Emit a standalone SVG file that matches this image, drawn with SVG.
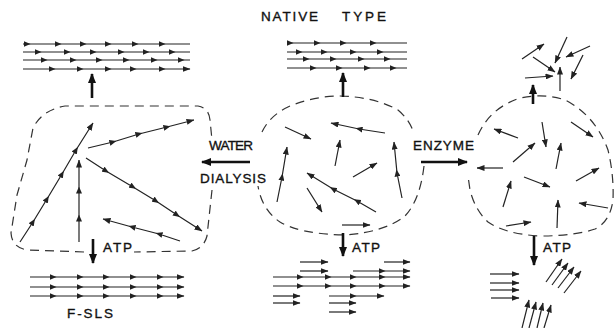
<svg xmlns="http://www.w3.org/2000/svg" width="614" height="328" viewBox="0 0 614 328">
  <style>
    .f { fill: none; stroke: #222; stroke-width: 1.2; marker-end: url(#tip); }
    .fm { fill: none; stroke: #222; stroke-width: 1.2; marker-mid: url(#mid); marker-end: url(#tip); }
    .fo { fill: none; stroke: #222; stroke-width: 1.2; marker-mid: url(#mid); }
    .dash { fill: none; stroke: #333; stroke-width: 1.2; stroke-dasharray: 9 6; }
    .big { fill: none; stroke: #111; stroke-width: 2.6; marker-end: url(#big); }
    text { font-family: "Liberation Sans", Arial, sans-serif; font-size: 13.5px; fill: #111; stroke: #111; stroke-width: 0.35; }
  </style>
  <defs>
    <marker id="tip" viewBox="0 0 8 6" refX="7.5" refY="3" markerWidth="8" markerHeight="6" markerUnits="userSpaceOnUse" orient="auto">
      <path d="M0,0 L8,3 L0,6 z" fill="#222"/>
    </marker>
    <marker id="mid" viewBox="0 0 7 6" refX="3.5" refY="3" markerWidth="7" markerHeight="6" markerUnits="userSpaceOnUse" orient="auto">
      <path d="M0,0 L7,3 L0,6 z" fill="#222"/>
    </marker>
    <marker id="big" viewBox="0 0 10 8" refX="9" refY="4" markerWidth="10" markerHeight="8" markerUnits="userSpaceOnUse" orient="auto">
      <path d="M0,0 L10,4 L0,8 z" fill="#111"/>
    </marker>
  </defs>

  <!-- title -->
  <g id="title">
    <text y="21"><tspan x="261" textLength="57">NATIVE</tspan><tspan x="342" textLength="44">TYPE</tspan></text>
  </g>

  <!-- aligned filament bundles at the top -->
  <g id="left-bundle">
    <path class="fo" d="M23,44 L27,44 L58,44 L83,44 L108,44 L135,44 L162,44 L190,44"/>
    <path class="fo" d="M23,52 L38,52 L67,52 L93,52 L121,52 L146,52 L172,52 L190,52"/>
    <path class="fo" d="M23,60 L44,60 L73,60 L99,60 L126,60 L154,60 L181,60 L190,60"/>
    <path class="fm" d="M23,69 L52,69 L80,69 L108,69 L133,69 L162,69 L190,69"/>
  </g>
  <g id="native-bundle">
    <path class="fo" d="M287,43 L290,43 L317,43 L343,43 L373,43 L407,43"/>
    <path class="fo" d="M287,52 L299,52 L324,52 L353,52 L380,52 L407,52"/>
    <path class="fo" d="M287,59 L306,59 L333,59 L361,59 L387,59 L407,59"/>
    <path class="fo" d="M287,68 L313,68 L339,68 L367,68 L393,68 L407,68"/>
  </g>
  <g id="scattered-top">
    <path class="f" d="M522,59 L544,44"/>
    <path class="f" d="M567,37 L555,63"/>
    <path class="f" d="M590,46 L566,57"/>
    <path class="f" d="M533,57 L555,72"/>
    <path class="f" d="M525,78 L553,76"/>
    <path class="f" d="M560,91 L560,67"/>
    <path class="f" d="M583,55 L571,79"/>
  </g>

  <!-- left cluster (long filaments) -->
  <g id="left-cluster">
    <path class="dash" d="M84,252 L28,250 Q12,248 11,233 L17,195 L27,160 L33,128 Q42,110 65,106 L198,106 Q209,108 210,120 L212,140"/>
    <path class="dash" d="M212,190 L207,236 Q204,248 192,251 L134,252"/>
    <path class="fm" d="M20,242 L33,222 L47,199 L62,174 L76,150 L93,123"/>
    <path class="fm" d="M88,148 L113,142 L139,134 L167,127 L194,120"/>
    <path class="fm" d="M79,242 L79,218 L79,190 L79,160"/>
    <path class="fm" d="M86,158 L106,171 L133,187 L156,201 L177,215 L202,231"/>
    <path class="fm" d="M180,241 L159,234 L132,227 L103,219"/>
  </g>

  <!-- native cluster -->
  <g id="native-cluster">
    <path class="dash" d="M262,132 Q270,115 290,106 Q315,96 340,96 Q375,97 398,110 Q410,120 414,134"/>
    <path class="dash" d="M424,166 Q420,200 405,216 Q385,232 345,235 Q300,234 280,222 Q262,210 258,186"/>
    <path class="f" d="M285,127 L311,139"/>
    <path class="fm" d="M385,133 L359,129 L331,123"/>
    <path class="f" d="M335,166 L340,140"/>
    <path class="fm" d="M277,202 L282,177 L287,147"/>
    <path class="f" d="M353,177 L377,163"/>
    <path class="fm" d="M376,212 L357,201 L333,189 L307,173"/>
    <path class="f" d="M307,188 L322,212"/>
    <path class="fm" d="M402,198 L397,173 L394,142"/>
    <path class="f" d="M342,225 L370,225"/>
  </g>

  <!-- enzyme-treated cluster (short filaments) -->
  <g id="enzyme-cluster">
    <path class="dash" d="M478,135 Q490,108 520,98 Q545,93 565,100 Q595,115 608,150 Q614,175 613,200 Q610,222 595,229 Q575,236 540,236 Q505,234 488,222 Q475,210 470,190 L468,176"/>
    <path class="f" d="M518,138 L494,129"/>
    <path class="f" d="M542,122 L546,147"/>
    <path class="f" d="M571,122 L593,137"/>
    <path class="f" d="M513,162 L535,143"/>
    <path class="f" d="M556,169 L561,143"/>
    <path class="f" d="M503,168 L477,168"/>
    <path class="f" d="M524,177 L550,187"/>
    <path class="f" d="M576,181 L599,168"/>
    <path class="f" d="M503,207 L511,181"/>
    <path class="f" d="M608,208 L579,203"/>
    <path class="f" d="M557,228 L558,200"/>
    <path class="f" d="M506,226 L531,222"/>
  </g>

  <!-- bundles formed with ATP -->
  <g id="f-sls">
    <path class="fm" d="M30,277 L53,277 L80,277 L106,277 L133,277 L160,277 L184,277"/>
    <path class="fm" d="M30,287 L53,287 L80,287 L106,287 L133,287 L160,287 L184,287"/>
    <path class="fm" d="M30,296 L53,296 L80,296 L106,296 L133,296 L160,296 L184,296"/>
    <text x="67" y="318" textLength="46">F-SLS</text>
  </g>
  <g id="native-atp-bundle">
    <path class="f" d="M300,262 L328,262"/>
    <path class="f" d="M384,262 L410,262"/>
    <path class="f" d="M300,271 L328,271"/>
    <path class="fm" d="M353,271 L382,271 L410,271"/>
    <path class="fm" d="M273,277 L300,277 L328,277 L353,277 L382,277 L410,277"/>
    <path class="fm" d="M273,286 L300,286 L328,286 L353,286 L382,286 L410,286"/>
    <path class="f" d="M273,296 L300,296"/>
    <path class="fm" d="M329,296 L353,296 L384,296"/>
    <path class="f" d="M273,303 L300,303"/>
    <path class="f" d="M329,303 L356,303"/>
    <path class="f" d="M329,312 L356,312"/>
  </g>
  <g id="enzyme-atp-bundle">
    <path class="f" d="M490,274 L519,274"/>
    <path class="f" d="M490,283 L519,283"/>
    <path class="f" d="M490,290 L519,290"/>
    <path class="f" d="M491,298 L519,298"/>
    <path class="f" d="M546,282 L562,259"/>
    <path class="f" d="M552,285 L568,263"/>
    <path class="f" d="M558,288 L574,267"/>
    <path class="f" d="M564,293 L581,271"/>
    <path class="f" d="M522,328 L529,300"/>
    <path class="f" d="M529,328 L536,302"/>
    <path class="f" d="M537,328 L543,303"/>
    <path class="f" d="M544,328 L551,305"/>
  </g>

  <!-- process arrows and their labels -->
  <g id="connectors">
    <path class="big" d="M92,98 L92,74"/>
    <path class="big" d="M343,97 L343,73"/>
    <path class="big" d="M533,104 L533,85"/>
    <path class="big" d="M250,162 L202,162"/>
    <path class="big" d="M421,162 L467,162"/>
    <path class="big" d="M93,239 L93,263"/>
    <path class="big" d="M343,233 L343,256"/>
    <path class="big" d="M534,236 L534,265"/>
  </g>
  <g id="labels">
    <text x="209" y="150" textLength="44">WATER</text>
    <text x="200" y="183" textLength="66">DIALYSIS</text>
    <text x="413" y="150" textLength="61">ENZYME</text>
    <text x="103" y="252" textLength="29">ATP</text>
    <text x="352" y="252" textLength="28">ATP</text>
    <text x="543" y="252" textLength="28">ATP</text>
  </g>
</svg>
